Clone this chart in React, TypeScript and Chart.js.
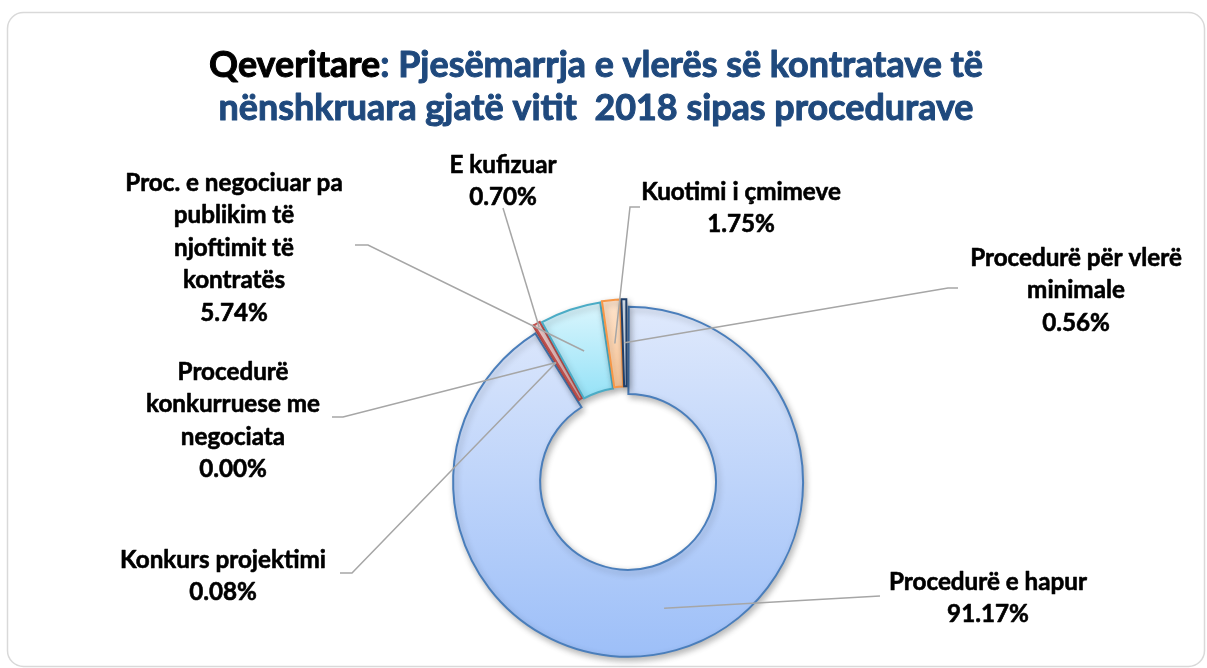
import React, { useEffect, useRef } from 'react';
import { Chart, registerables } from 'chart.js';

Chart.register(...registerables);

// ---- data ----
const categories = [
  'Procedurë e hapur',
  'Konkurs projektimi',
  'Procedurë konkurruese me negociata',
  'E kufizuar',
  'Proc. e negociuar pa publikim të njoftimit të kontratës',
  'Kuotimi i çmimeve',
  'Procedurë për vlerë minimale',
];
const values = [91.17, 0.08, 0.0, 0.7, 5.74, 1.75, 0.56];
const valueLabels = ['91.17%', '0.08%', '0.00%', '0.70%', '5.74%', '1.75%', '0.56%'];
const labelLines = [
  ['Procedurë e hapur'],
  ['Konkurs projektimi'],
  ['Procedurë', 'konkurruese me', 'negociata'],
  ['E kufizuar'],
  ['Proc. e negociuar pa', 'publikim të', 'njoftimit të', 'kontratës'],
  ['Kuotimi i çmimeve'],
  ['Procedurë për vlerë', 'minimale'],
];
const titleBlack = 'Qeveritare';
const titleBlue = ': Pjesëmarrja e vlerës së kontratave të';
const titleLine2 = 'nënshkruara gjatë vitit  2018 sipas procedurave';

// ---- styles / layout ----
const fillTop = ['#dfe9fc', '#f6d3d2', '#e4efd3', '#fbdcdc', '#dcf6fd', '#fee4cd', '#dfe8f3'];
const fillBottom = ['#9dbff8', '#eeaaa8', '#c3dc9a', '#f3b6b5', '#96e2f7', '#fcc798', '#c3d4ea'];
const borderColors = ['#4a7ebb', '#c0504d', '#9bbb59', '#c0504d', '#4bacc6', '#f79646', '#1f3f6a'];
const anchorFrac = [0.5, 0.5, 0.5, 0.95, 0.5, 0.5, 0.5];
const labelLayout = [
  { x: 988, y: 582, path: [[880, 596]] },
  { x: 223, y: 560, path: [[340, 573], [352, 573]] },
  { x: 233, y: 372, path: [[332, 417], [343, 417]] },
  { x: 503, y: 165, path: [[503, 208]] },
  { x: 234, y: 183, path: [[355, 245], [368, 245]] },
  { x: 741, y: 192, path: [[640, 207], [630, 207]] },
  { x: 1076, y: 258, path: [[958, 288], [948, 288]] },
];
const LINE_H = 32.5;
const FONT_FAMILY = 'Lato, "Open Sans", "Noto Sans", sans-serif';

const fillFn = (c: any) => {
  const chart = c.chart;
  const i: number = c.dataIndex ?? 0;
  const area = chart.chartArea;
  if (!area) return fillTop[i];
  const cx = (area.left + area.right) / 2;
  const cy = (area.top + area.bottom) / 2;
  const total = values.reduce((a, b) => a + b, 0);
  let acc = 0;
  for (let k = 0; k < i; k++) acc += values[k];
  const a0 = (acc / total) * Math.PI * 2;
  const a1 = ((acc + values[i]) / total) * Math.PI * 2;
  let minY = Infinity;
  let maxY = -Infinity;
  for (let s = 0; s <= 90; s++) {
    const th = a0 + ((a1 - a0) * s) / 90;
    for (const rr of [88, 175]) {
      const y = cy - rr * Math.cos(th);
      if (y < minY) minY = y;
      if (y > maxY) maxY = y;
    }
  }
  if (maxY - minY < 1) maxY = minY + 1;
  void cx;
  const g = chart.ctx.createLinearGradient(0, minY, 0, maxY);
  g.addColorStop(0, fillTop[i]);
  g.addColorStop(1, fillBottom[i]);
  return g;
};

const boxPlugin = {
  id: 'box',
  beforeDraw(chart: any) {
    const ctx = chart.ctx;
    ctx.save();
    ctx.fillStyle = '#ffffff';
    ctx.fillRect(0, 0, chart.width, chart.height);
    ctx.beginPath();
    ctx.roundRect(7.5, 12.5, 1197, 654, 16);
    ctx.strokeStyle = '#d9d9d9';
    ctx.lineWidth = 1.5;
    ctx.stroke();
    ctx.restore();
  },
};

const shadowPlugin = {
  id: 'ringShadow',
  beforeDatasetsDraw(chart: any) {
    const ctx = chart.ctx;
    ctx.save();
    ctx.shadowColor = 'rgba(0,0,0,0.28)';
    ctx.shadowBlur = 6;
    ctx.shadowOffsetX = 2;
    ctx.shadowOffsetY = 3;
  },
  afterDatasetsDraw(chart: any) {
    chart.ctx.restore();
  },
};

function boldText(ctx: CanvasRenderingContext2D, t: string, x: number, y: number, color: string, sw: number) {
  ctx.fillStyle = color;
  ctx.strokeStyle = color;
  ctx.lineWidth = sw;
  ctx.lineJoin = 'round';
  ctx.strokeText(t, x, y);
  ctx.fillText(t, x, y);
}

const labelPlugin = {
  id: 'labels',
  afterDraw(chart: any) {
    const ctx = chart.ctx;
    const meta = chart.getDatasetMeta(0);
    ctx.save();

    // leader lines
    ctx.strokeStyle = '#a6a6a6';
    ctx.lineWidth = 1.5;
    meta.data.forEach((arc: any, i: number) => {
      const { x, y, startAngle, endAngle, innerRadius, outerRadius } = arc;
      const off = (arc.options.offset || 0) / 4;
      const circ = endAngle - startAngle;
      const grow = off * (1 - Math.sin(Math.min(Math.PI, circ)));
      const mid = (startAngle + endAngle) / 2;
      const r = innerRadius + grow + anchorFrac[i] * (outerRadius - innerRadius);
      const ax = x + Math.cos(mid) * (off + r);
      const ay = y + Math.sin(mid) * (off + r);
      const p = labelLayout[i].path;
      ctx.beginPath();
      ctx.moveTo(p[0][0], p[0][1]);
      for (let k = 1; k < p.length; k++) ctx.lineTo(p[k][0], p[k][1]);
      ctx.lineTo(ax, ay);
      ctx.stroke();
    });

    // title
    ctx.font = `bold 30px ${FONT_FAMILY}`;
    const w30 = ctx.measureText(titleBlack + titleBlue).width;
    const tSize = (30 * 774) / w30;
    ctx.font = `bold ${tSize}px ${FONT_FAMILY}`;
    ctx.textBaseline = 'middle';
    const wB = ctx.measureText(titleBlack).width;
    const wAll = ctx.measureText(titleBlack + titleBlue).width;
    const tx = 596 - wAll / 2;
    ctx.textAlign = 'left';
    boldText(ctx, titleBlack, tx, 65, '#000000', 1);
    boldText(ctx, titleBlue, tx + wB, 65, '#1f497d', 1);
    ctx.textAlign = 'center';
    boldText(ctx, titleLine2, 596, 108, '#1f497d', 1);

    // label text
    ctx.font = `bold 20px ${FONT_FAMILY}`;
    const w20 = ctx.measureText('Procedurë e hapur').width;
    const lSize = (20 * 198) / w20;
    ctx.font = `bold ${lSize}px ${FONT_FAMILY}`;
    ctx.textAlign = 'center';
    ctx.textBaseline = 'middle';
    labelLines.forEach((lines, i) => {
      const L = labelLayout[i];
      const all = [...lines, valueLabels[i]];
      all.forEach((t, k) => boldText(ctx, t, L.x, L.y + k * LINE_H, '#000000', 0.6));
    });
    ctx.restore();
  },
};

export default function App() {
  const ref = useRef<HTMLCanvasElement>(null);
  useEffect(() => {
    const canvas = ref.current;
    if (!canvas) return;
    const chart = new Chart(canvas, {
      type: 'doughnut',
      data: {
        labels: categories,
        datasets: [
          {
            data: values,
            backgroundColor: fillFn as any,
            borderColor: borderColors,
            borderWidth: 2,
            borderJoinStyle: 'miter',
            offset: 16,
            radius: 171,
            cutout: '49.1%',
            clip: false as any,
          } as any,
        ],
      },
      options: {
        responsive: false,
        animation: false,
        events: [],
        layout: { padding: { left: 47, right: 0, top: 290, bottom: 2 } },
        plugins: {
          legend: { display: false },
          tooltip: { enabled: false },
          title: { display: false },
        },
      },
      plugins: [boxPlugin, shadowPlugin, labelPlugin],
    });
    return () => chart.destroy();
  }, []);
  return (
    <div style={{ position: 'fixed', left: 0, top: 0, width: 1207, height: 668, background: '#fff' }}>
      <canvas ref={ref} width={1207} height={668} style={{ display: 'block', width: 1207, height: 668 }} />
    </div>
  );
}
